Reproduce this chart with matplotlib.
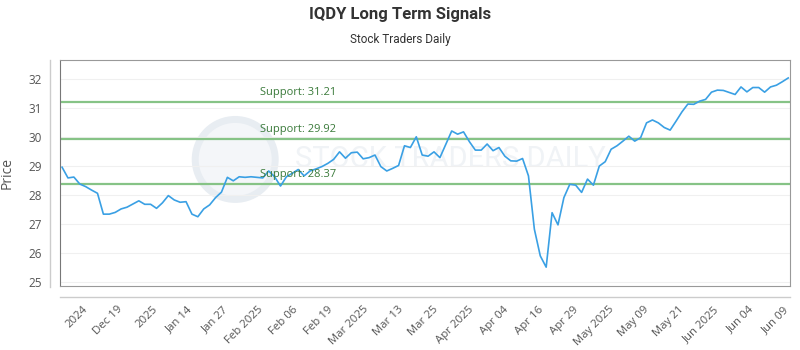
import matplotlib
matplotlib.use("Agg")
import matplotlib.pyplot as plt
from matplotlib.lines import Line2D
from matplotlib.patches import Ellipse
import numpy as np

# Price series (one point per trading day)
prices = [
    28.96, 28.59, 28.62, 28.38, 28.29, 28.17, 28.06, 27.34, 27.34, 27.40,
    27.52, 27.58, 27.69, 27.80, 27.68, 27.68, 27.54, 27.73, 27.98, 27.83,
    27.75, 27.77, 27.34, 27.25, 27.52, 27.66, 27.91, 28.10, 28.61, 28.49,
    28.63, 28.61, 28.63, 28.61, 28.59, 28.83, 28.63, 28.31, 28.63, 28.75,
    28.88, 28.66, 28.83, 28.90, 28.98, 29.09, 29.23, 29.49, 29.27, 29.46,
    29.48, 29.25, 29.29, 29.38, 28.98, 28.83, 28.92, 29.02, 29.70, 29.64,
    30.01, 29.38, 29.34, 29.49, 29.29, 29.75, 30.21, 30.10, 30.18, 29.84,
    29.55, 29.55, 29.76, 29.53, 29.64, 29.34, 29.18, 29.17, 29.26, 28.66,
    26.82, 25.90, 25.51, 27.39, 26.97, 27.91, 28.37, 28.34, 28.09, 28.55,
    28.34, 29.00, 29.15, 29.58, 29.70, 29.86, 30.03, 29.86, 29.98, 30.49,
    30.59, 30.49, 30.33, 30.24, 30.55, 30.87, 31.14, 31.13, 31.24, 31.30,
    31.55, 31.62, 31.61, 31.54, 31.47, 31.73, 31.56, 31.71, 31.71, 31.55,
    31.73, 31.79, 31.91, 32.04,
]

tick_labels = [
    "2024", "Dec 19", "2025", "Jan 14", "Jan 27", "Feb 2025", "Feb 06",
    "Feb 19", "Mar 2025", "Mar 13", "Mar 25", "Apr 2025", "Apr 04",
    "Apr 16", "Apr 29", "May 2025", "May 09", "May 21", "Jun 2025",
    "Jun 04", "Jun 09",
]

support_levels = [31.21, 29.92, 28.37]
y_ticks = [25, 26, 27, 28, 29, 30, 31, 32]

plt.rcParams["font.family"] = ["Open Sans", "DejaVu Sans"]

fig = plt.figure(figsize=(8, 3.5), dpi=100)
ax = fig.add_axes([60 / 800, 1 - 286 / 350, 730 / 800, 226 / 350])

x = np.arange(len(prices))

# faint watermark (round logo + text)
ax.add_patch(Ellipse((0.24, 0.56), 80 / 730, 80 / 226, transform=ax.transAxes,
                     facecolor="#f4f6f9", edgecolor="#e8edf2", lw=5, zorder=0))
ax.text(0.535, 0.56, "STOCK TRADERS DAILY", transform=ax.transAxes,
        ha="center", va="center", fontsize=21, color="#f0f3f6",
        family=["Roboto", "DejaVu Sans"], zorder=0)

# support lines and labels
for level in support_levels:
    ax.axhline(level, color="#86c386", lw=1.6, zorder=2)
    ax.annotate(f"Support: {level:.2f}", xy=(33.6, level), xytext=(0, 3),
                textcoords="offset points", va="bottom", ha="left",
                fontsize=8, color="#3a7a3a", zorder=4)

ax.plot(x, prices, color="#3aa0e4", lw=1.2, zorder=3)

ax.set_xlim(-0.35, len(prices) - 0.7)
ax.set_ylim(24.86, 32.66)

ax.set_yticks(y_ticks)
ax.set_yticklabels([str(v) for v in y_ticks])
ax.grid(axis="y", color="#f0f0f0", lw=0.8)
ax.set_axisbelow(True)

tick_pos = np.linspace(3.4, 122.2, len(tick_labels))
ax.set_xticks(tick_pos)
ax.set_xticklabels(tick_labels, rotation=45, ha="right",
                   rotation_mode="anchor")

ax.tick_params(axis="y", length=0, pad=13, labelsize=8.5, labelcolor="#555555")
ax.tick_params(axis="x", length=0, pad=13, labelsize=8.2, labelcolor="#555555")

for side in ["top", "right", "bottom"]:
    ax.spines[side].set_color("#999999")
ax.spines["left"].set_color("#777777")

ax.set_ylabel("Price", fontsize=10, color="#555555")
ax.yaxis.set_label_coords(-0.062, 0.5)

# outer axis lines
fig.add_artist(Line2D([50 / 800, 50 / 800], [1 - 287 / 350, 1 - 60 / 350],
                      color="#cccccc", lw=1))
fig.add_artist(Line2D([60 / 800, 790 / 800], [1 - 297 / 350, 1 - 297 / 350],
                      color="#cccccc", lw=1))

fig.text(0.5, 1 - 15 / 350, "IQDY Long Term Signals", ha="center",
         va="center", fontsize=12, fontweight="bold", color="#333333",
         family=["Roboto", "DejaVu Sans"])
fig.text(0.5, 1 - 40 / 350, "Stock Traders Daily", ha="center",
         va="center", fontsize=8.5, color="#333333",
         family=["Roboto", "DejaVu Sans"])

fig.savefig("out.png", dpi=100)
